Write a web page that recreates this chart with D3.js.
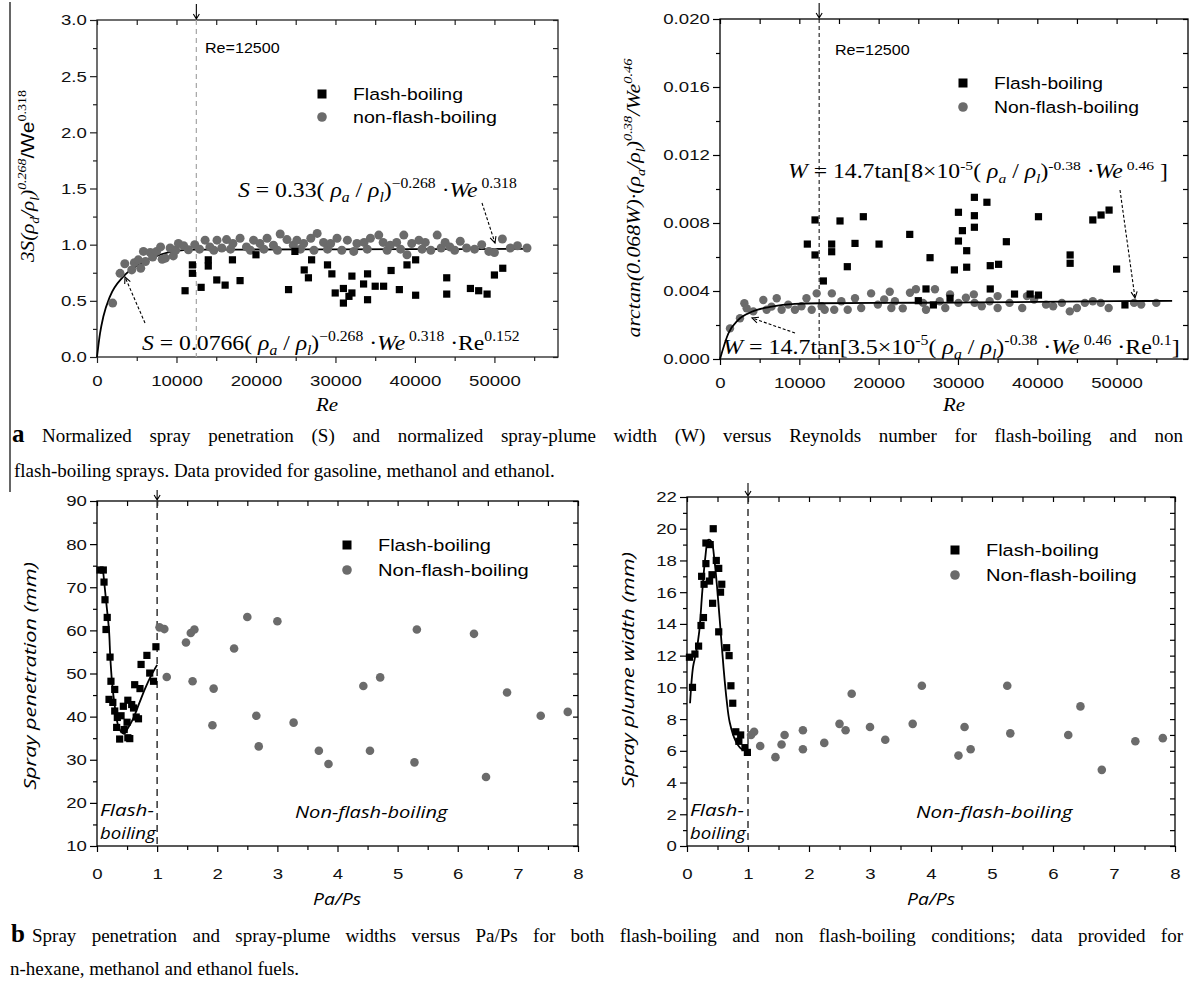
<!DOCTYPE html>
<html><head><meta charset="utf-8">
<script src="https://cdnjs.cloudflare.com/ajax/libs/d3/7.8.5/d3.min.js"></script>
<style>body{margin:0;background:#fff;} svg{display:block;}</style>
</head><body><svg id="c" width="1193" height="985"></svg>
<script>
// ---------------- DATA ----------------
const reTicks = [0,10000,20000,30000,40000,50000];
const reMinor = [5000,15000,25000,35000,45000,55000];
const sTicks = [0,0.5,1.0,1.5,2.0,2.5,3.0];
const sMinor = [0.25,0.75,1.25,1.75,2.25,2.75];
const wTicks = [0,0.004,0.008,0.012,0.016,0.020];
const wMinor = [0.002,0.006,0.010,0.014,0.018];
const paTicks = [0,1,2,3,4,5,6,7,8];
const paMinor = [0.5,1.5,2.5,3.5,4.5,5.5,6.5,7.5];
const penTicks = [10,20,30,40,50,60,70,80,90];
const penMinor = [15,25,35,45,55,65,75,85];
const plumeTicks = [0,2,4,6,8,10,12,14,16,18,20,22];
const plumeMinor = [1,3,5,7,9,11,13,15,17,19,21];
const seriesNames = ["Flash-boiling","non-flash-boiling","Non-flash-boiling"];
const reCritical = 12500;
const paCritical = 1;

// (a) left: normalized penetration vs Re
const normPenFlash = [[11080,0.59],[12000,0.82],[12000,0.745],[13100,0.62],[14000,0.865],[14000,0.81],[15070,0.686],[16120,0.64],[17040,0.865],[18000,0.68],[20000,0.91],[24100,0.6],[24900,0.94],[27000,0.865],[26070,0.775],[26600,0.705],[29000,0.82],[29550,0.74],[29970,0.57],[31000,0.61],[31000,0.48],[32070,0.72],[32070,0.57],[31700,0.54],[33540,0.65],[34040,0.74],[34040,0.51],[35000,0.63],[36060,0.63],[37000,0.77],[38040,0.6],[39000,0.82],[40090,0.865],[40090,0.55],[44000,0.705],[44000,0.56],[46980,0.61],[48020,0.59],[49080,0.56],[50000,0.73],[51050,0.79]];
const normPenNonFlash = [[1970,0.48],[2900,0.745],[3500,0.83],[4370,0.775],[4700,0.84],[5200,0.865],[5500,0.79],[5840,0.94],[6100,0.85],[6700,0.93],[7000,0.89],[7500,0.94],[8000,0.98],[8200,0.87],[8600,0.88],[9200,0.97],[9600,0.9],[9900,0.95],[10240,1.01],[10900,0.99],[11500,0.955],[12300,1.0],[12900,0.96],[13600,1.04],[14200,0.98],[14700,0.95],[15100,1.04],[15700,0.97],[16300,1.045],[16800,0.96],[17100,1.01],[18000,1.057],[18800,0.98],[19300,0.95],[19700,1.04],[20500,1.01],[21000,0.96],[21400,1.057],[22200,0.995],[22700,0.95],[23050,1.095],[23900,1.045],[24700,0.995],[25150,1.04],[25600,0.96],[26000,1.01],[26900,1.057],[27300,0.95],[27700,1.10],[28500,1.02],[29000,0.96],[29400,1.01],[30200,1.057],[30800,0.95],[31500,1.04],[32300,0.94],[32700,1.01],[33600,1.02],[34000,0.96],[34400,1.057],[35450,1.085],[36000,1.02],[36500,0.95],[36900,0.995],[37700,1.02],[38200,0.96],[38600,1.085],[39000,0.91],[39600,1.01],[40500,1.04],[40900,0.96],[41300,1.02],[42000,0.95],[42800,1.085],[43300,0.97],[43800,1.02],[44400,0.98],[45000,0.95],[45700,1.03],[46500,0.97],[47500,0.96],[48400,1.0],[49300,0.94],[50000,0.93],[51000,1.05],[52000,0.97],[52900,0.99],[54100,0.97]];
const normPenFit = [[0,0],[380,0.21],[800,0.36],[1640,0.54],[3300,0.715],[5400,0.83],[7900,0.91],[10000,0.944],[12500,0.955],[20000,0.957],[30000,0.958],[40000,0.96],[54500,0.962]];

// (a) right: normalized width vs Re
const normWidthFlash = [[11010,0.00676],[11980,0.00818],[11980,0.00612],[13030,0.00459],[15130,0.00812],[14080,0.00676],[14080,0.00631],[16050,0.00543],[17020,0.0068],[18070,0.00837],[20050,0.00676],[23920,0.00733],[26480,0.00596],[25970,0.00412],[25000,0.00343],[26900,0.00318],[29550,0.00524],[29000,0.00357],[30060,0.00863],[30060,0.00694],[30560,0.00755],[31100,0.00637],[31100,0.0054],[32070,0.00951],[32070,0.00843],[32070,0.00775],[33650,0.00922],[34070,0.00549],[34070,0.00412],[35120,0.00557],[36100,0.0069],[37130,0.00382],[39100,0.00382],[40150,0.00837],[40150,0.00376],[44140,0.00612],[44140,0.00563],[47000,0.00818],[48040,0.00847],[49050,0.00876],[50000,0.00529],[51050,0.00318]];
const normWidthNonFlash = [[1260,0.0018],[2520,0.0024],[3070,0.00328],[3360,0.00298],[4200,0.0028],[5460,0.00347],[5880,0.0029],[6500,0.00308],[7150,0.00357],[7770,0.0029],[8600,0.0032],[9450,0.0029],[10270,0.0031],[10900,0.00357],[11560,0.0029],[12190,0.00386],[12820,0.0031],[13200,0.0029],[14100,0.00386],[14400,0.0029],[15300,0.0034],[16100,0.0029],[17020,0.00357],[17800,0.003],[19050,0.00386],[19900,0.0032],[20700,0.0035],[21400,0.00396],[21600,0.003],[22050,0.0034],[23040,0.00298],[23950,0.0039],[24700,0.0041],[25600,0.0033],[25970,0.0029],[27100,0.0041],[27700,0.0034],[28400,0.003],[29000,0.0038],[30060,0.0033],[31000,0.0036],[32000,0.0038],[32100,0.0033],[33000,0.0031],[34000,0.0034],[35000,0.0037],[35000,0.003],[36500,0.0033],[38100,0.003],[38700,0.0037],[39600,0.0035],[41100,0.0032],[42000,0.0031],[43100,0.0033],[44100,0.0028],[45000,0.003],[46000,0.0033],[47000,0.0034],[48000,0.0033],[49000,0.003],[52200,0.0033],[53100,0.0032],[55000,0.0033]];
const normWidthFit = [[0,0],[1050,0.0015],[2300,0.0023],[4000,0.00278],[6500,0.00308],[9450,0.00324],[12500,0.00328],[20000,0.0033],[30000,0.00332],[40000,0.00336],[50000,0.0034],[57000,0.00342]];

// (b) left: penetration vs Pa/Ps
const penFlash = [[0.05,74.0],[0.105,74.0],[0.117,71.2],[0.133,67.1],[0.17,63.0],[0.15,60.2],[0.217,53.8],[0.232,48.2],[0.295,46.3],[0.2,44.0],[0.263,43.3],[0.295,41.3],[0.338,39.8],[0.327,37.5],[0.377,34.8],[0.452,37.0],[0.40,40.2],[0.513,35.1],[0.545,34.9],[0.438,42.4],[0.513,43.8],[0.50,38.7],[0.577,42.8],[0.608,42.0],[0.627,47.4],[0.652,39.9],[0.69,39.5],[0.715,46.5],[0.733,52.1],[0.83,54.2],[0.877,50.1],[0.94,48.2],[0.98,56.2]];
const penNonFlash = [[1.04,60.7],[1.12,60.3],[1.16,49.2],[1.48,57.2],[1.56,59.4],[1.62,60.2],[1.59,48.2],[1.94,46.5],[1.92,38.0],[2.28,55.8],[2.5,63.1],[2.65,40.2],[2.69,33.1],[3.0,62.1],[3.27,38.6],[3.69,32.1],[3.85,29.0],[4.43,47.1],[4.54,32.1],[4.71,49.1],[5.28,29.4],[5.32,60.2],[6.27,59.2],[6.47,26.0],[6.82,45.6],[7.38,40.2],[7.83,41.1]];
const penFit = [[0.1,74],[0.15,67],[0.2,60],[0.22,54],[0.25,48],[0.3,42],[0.35,38],[0.4,36.5],[0.45,36],[0.5,37],[0.6,39.5],[0.7,43],[0.8,46.5],[0.9,49.5],[1.0,52]];

// (b) right: plume width vs Pa/Ps
const plumeFlash = [[0.04,11.9],[0.09,10.0],[0.13,12.1],[0.19,12.6],[0.23,13.9],[0.27,14.4],[0.24,17.0],[0.31,19.1],[0.31,17.8],[0.28,16.5],[0.38,19.0],[0.37,16.7],[0.41,17.1],[0.43,20.0],[0.42,15.3],[0.48,18.0],[0.52,17.5],[0.57,16.5],[0.55,16.0],[0.52,13.5],[0.65,12.5],[0.69,12.0],[0.72,10.1],[0.75,9.0],[0.8,7.2],[0.85,6.6],[0.88,7.0],[0.95,6.2],[0.99,5.9]];
const plumeNonFlash = [[1.05,7.0],[1.1,7.2],[1.2,6.3],[1.45,5.6],[1.55,6.4],[1.6,7.0],[1.9,7.3],[1.9,6.1],[2.25,6.5],[2.5,7.7],[2.6,7.3],[2.7,9.6],[3.0,7.5],[3.25,6.7],[3.7,7.7],[3.85,10.1],[4.45,5.7],[4.55,7.5],[4.65,6.1],[5.25,10.1],[5.3,7.1],[6.25,7.0],[6.45,8.8],[6.8,4.8],[7.35,6.6],[7.8,6.8]];
const plumeFit = [[0.05,9],[0.1,11.3],[0.15,12.2],[0.2,13.5],[0.25,16],[0.3,18.2],[0.35,19.3],[0.4,19.2],[0.45,18],[0.5,16],[0.55,13.6],[0.6,11.2],[0.65,9.2],[0.7,7.8],[0.8,6.6],[0.9,6.1],[1.0,6.0]];

// ---------------- DRAWING ----------------
const svg = d3.select('#c');
const SANS = '"Liberation Sans", Arial, sans-serif';
const SERIF = '"Liberation Serif", "Times New Roman", serif';
const OSANS = '"Open Sans", "Noto Sans", sans-serif';
const GREY = '#6b6b6b';

function rich(parent, x, y, segs, o) {
  const size = o.size, fam = o.fam || SERIF;
  const g = parent.append('g');
  const t = g.append('text').attr('font-family', fam).attr('font-size', size)
    .attr('text-anchor', o.anchor || 'start').attr('fill', o.fill || '#000');
  if (o.italic) t.attr('font-style', 'italic');
  if (o.bold) t.attr('font-weight', 'bold');
  let prev = 0;
  segs.forEach(s => {
    const sh = s.sh === 'sup' ? -0.42 * size : s.sh === 'sub' ? 0.25 * size : 0;
    const ts = t.append('tspan').text(s.t).attr('dy', sh - prev);
    prev = sh;
    if (s.sh) ts.attr('font-size', size * 0.66);
    if (s.it) ts.attr('font-style', 'italic');
    if (s.up) ts.attr('font-style', 'normal');
    if (s.fam) ts.attr('font-family', s.fam);
  });
  let tf = `translate(${x},${y})` + (o.rot ? ' rotate(-90)' : '');
  if (o.w) { const w = t.node().getBBox().width; tf += ` scale(${o.w / w},1)`; }
  else if (o.k) tf += ` scale(${o.k},1)`;
  g.attr('transform', tf);
  return g;
}
const N = t => ({t}), I = t => ({t, it: true}), SUP = t => ({t, sh: 'sup', up: true}),
      ISUP = t => ({t, sh: 'sup', it: true}), ISUB = t => ({t, sh: 'sub', it: true});

function panel(c) {
  const x = d3.scaleLinear().domain(c.xd).range([c.l, c.r]);
  const y = d3.scaleLinear().domain(c.yd).range([c.b, c.t]);
  const g = svg.append('g');
  const styleAxis = a => {
    a.select('.domain').remove();
    a.selectAll('line').attr('stroke', c.axisColor || '#000').attr('stroke-width', 1.2);
    a.selectAll('text').attr('font-family', SANS).attr('font-size', 15.5).attr('fill', '#111')
      .attr('transform', 'scale(1.2,1)');
  };
  g.append('g').attr('transform', `translate(0,${c.b})`)
    .call(d3.axisBottom(x).tickValues(c.xt).tickSize(6).tickPadding(c.xpad || 12).tickFormat(c.xf)).call(styleAxis);
  g.append('g').attr('transform', `translate(0,${c.b})`)
    .call(d3.axisBottom(x).tickValues(c.xm).tickSize(4).tickFormat('')).call(styleAxis);
  g.append('g').attr('transform', `translate(${c.l},0)`)
    .call(d3.axisLeft(y).tickValues(c.yt).tickSize(7).tickPadding(1.5).tickFormat(c.yf)).call(styleAxis);
  g.append('g').attr('transform', `translate(${c.l},0)`)
    .call(d3.axisLeft(y).tickValues(c.ym).tickSize(4).tickFormat('')).call(styleAxis);
  g.append('g').attr('transform', `translate(0,${c.t})`)
    .call(d3.axisTop(x).tickValues(c.xt.concat(c.xm)).tickSize(-5).tickFormat('')).call(styleAxis);
  g.append('g').attr('transform', `translate(${c.r},0)`)
    .call(d3.axisRight(y).tickValues(c.yt.concat(c.ym)).tickSize(-5).tickFormat('')).call(styleAxis);
  g.append('rect').attr('x', c.l).attr('y', c.t).attr('width', c.r - c.l).attr('height', c.b - c.t)
    .attr('fill', 'none').attr('stroke', c.axisColor || '#000').attr('stroke-width', 1.3);
  return {x, y, g};
}

function markers(p, flash, non, sq, r) {
  p.g.append('g').selectAll('circle').data(non).join('circle')
    .attr('cx', d => p.x(d[0])).attr('cy', d => p.y(d[1])).attr('r', r).attr('fill', GREY);
  p.g.append('g').selectAll('rect').data(flash).join('rect')
    .attr('x', d => p.x(d[0]) - sq / 2).attr('y', d => p.y(d[1]) - sq / 2)
    .attr('width', sq).attr('height', sq).attr('fill', '#000');
}
function fitLine(p, pts, curve) {
  p.g.append('path').datum(pts).attr('fill', 'none').attr('stroke', '#000').attr('stroke-width', 1.8)
    .attr('d', d3.line().x(d => p.x(d[0])).y(d => p.y(d[1])).curve(curve || d3.curveMonotoneX));
}
function vdash(p, xv, color, dash, w, arrowTop) {
  const xx = p.x(xv);
  p.g.append('line').attr('x1', xx).attr('x2', xx).attr('y1', p.y.range()[1]).attr('y2', p.y.range()[0])
    .attr('stroke', color).attr('stroke-dasharray', dash).attr('stroke-width', w);
  const t = p.y.range()[1];
  p.g.append('path').attr('d', `M${xx},${arrowTop}L${xx},${t - 1}M${xx - 3},${t - 6}L${xx},${t - 1}L${xx + 3},${t - 6}`)
    .attr('fill', 'none').attr('stroke', '#000').attr('stroke-width', 1.1);
}
function dashArrow(x1, y1, x2, y2) {
  const a = Math.atan2(y2 - y1, x2 - x1), L = 7;
  svg.append('line').attr('x1', x1).attr('y1', y1).attr('x2', x2).attr('y2', y2)
    .attr('stroke', '#000').attr('stroke-width', 1.1).attr('stroke-dasharray', '3,2');
  svg.append('path').attr('d', `M${x2 - L * Math.cos(a - 0.45)},${y2 - L * Math.sin(a - 0.45)}L${x2},${y2}L${x2 - L * Math.cos(a + 0.45)},${y2 - L * Math.sin(a + 0.45)}`)
    .attr('fill', 'none').attr('stroke', '#000').attr('stroke-width', 1.1);
}
function legend(x, y, gap, labels, sq, r, w1, w2) {
  svg.append('rect').attr('x', x - sq / 2).attr('y', y - sq / 2).attr('width', sq).attr('height', sq).attr('fill', '#000');
  svg.append('circle').attr('cx', x).attr('cy', y + gap).attr('r', r).attr('fill', GREY);
  rich(svg, x + 31, y + 6, [N(labels[0])], {size: 16.5, fam: SANS, w: w1});
  rich(svg, x + 31, y + gap + 6, [N(labels[1])], {size: 16.5, fam: SANS, w: w2});
}

// ---- Panel (a) left
const p1 = panel({l: 97, r: 558, t: 20, b: 357, xd: [0, 58000], yd: [0, 3], xt: reTicks, xm: reMinor,
  yt: sTicks, ym: sMinor, xf: d3.format('d'), yf: d3.format('.1f'), axisColor: '#222'});
vdash(p1, reCritical, '#aaa', '5,4', 1.3, 4);
fitLine(p1, normPenFit);
markers(p1, normPenFlash, normPenNonFlash, 7.2, 4.5);
rich(svg, 205, 53, [N('Re=' + reCritical)], {size: 14, fam: SANS, k: 1.15});
legend(322, 94, 23, [seriesNames[0], seriesNames[1]], 9, 4.8, 110, 144);
rich(svg, 238, 197, [I('S'), N(' = 0.33( '), I('ρ'), ISUB('a'), N(' / '), I('ρ'), ISUB('l'), N(')'), SUP('−0.268'), N(' ·'), I('We'), SUP(' 0.318')], {size: 21, w: 279});
rich(svg, 142, 350, [I('S'), N(' = 0.0766( '), I('ρ'), ISUB('a'), N(' / '), I('ρ'), ISUB('l'), N(')'), SUP('−0.268'), N(' ·'), I('We'), SUP(' 0.318'), N(' ·Re'), SUP('0.152')], {size: 21, w: 378});
dashArrow(482, 203, 495, 243);
dashArrow(145, 323, 125, 277);
rich(svg, 34, 176, [I('3S(ρ'), ISUB('d'), I('/ρ'), ISUB('l'), I(')'), ISUP('0.268'), {t: '/We', fam: SANS, up: true}, SUP('0.318')], {size: 19, anchor: 'middle', rot: true, w: 173});
rich(svg, 327, 411, [I('Re')], {size: 19, anchor: 'middle', k: 1.1});

// ---- Panel (a) right
const p2 = panel({l: 720, r: 1188, t: 19, b: 359, xd: [0, 59000], yd: [0, 0.02], xt: reTicks, xm: reMinor,
  yt: wTicks, ym: wMinor, xf: d3.format('d'), yf: d3.format('.3f')});
vdash(p2, reCritical, '#000', '4,3', 1, 3);
markers(p2, normWidthFlash, normWidthNonFlash, 7.2, 4.2);
fitLine(p2, normWidthFit);
rich(svg, 835, 55, [N('Re=' + reCritical)], {size: 14, fam: SANS, k: 1.15});
legend(963, 83, 24, [seriesNames[0], seriesNames[2]], 9, 4.8, 109, 145);
rich(svg, 788, 178, [I('W'), N(' = 14.7tan[8×10'), SUP('-5'), N('( '), I('ρ'), ISUB('a'), N(' / '), I('ρ'), ISUB('l'), N(')'), SUP('-0.38'), N(' ·'), I('We'), SUP(' 0.46'), N(' ]')], {size: 20, w: 380});
rich(svg, 723, 354, [I('W'), N(' = 14.7tan[3.5×10'), SUP('-5'), N('( '), I('ρ'), ISUB('a'), N(' / '), I('ρ'), ISUB('l'), N(')'), SUP('-0.38'), N(' ·'), I('We'), SUP(' 0.46'), N(' ·Re'), SUP('0.1'), N(']')], {size: 21, w: 457});
dashArrow(1120, 190, 1135, 298);
dashArrow(795, 333, 752, 318);
rich(svg, 640, 198, [I('arctan(0.068W)·(ρ'), ISUB('a'), I('/ρ'), ISUB('l'), I(')'), ISUP('0.38'), I('/We'), ISUP('0.46')], {size: 19, anchor: 'middle', rot: true, w: 280});
rich(svg, 954, 411, [I('Re')], {size: 19, anchor: 'middle', k: 1.1});

// ---- Panel (b) left
const p3 = panel({l: 97, r: 578, t: 501, b: 846, xd: [0, 8], yd: [10, 90], xt: paTicks, xm: paMinor,
  yt: penTicks, ym: penMinor, xf: d3.format('d'), yf: d3.format('d'), xpad: 16});
vdash(p3, paCritical, '#333', '7,5', 1.5, 490);
fitLine(p3, penFit, d3.curveCatmullRom);
markers(p3, penFlash, penNonFlash, 7.2, 4.3);
legend(347, 545, 25, [seriesNames[0], seriesNames[2]], 9, 4.8, 113, 151);
rich(svg, 100, 816, [N('Flash-')], {size: 17, fam: OSANS, italic: true, w: 54});
rich(svg, 100, 839, [N('boiling')], {size: 17, fam: OSANS, italic: true, w: 57});
rich(svg, 295, 818, [N('Non-flash-boiling')], {size: 17, fam: OSANS, italic: true, w: 154});
rich(svg, 36, 676, [N('Spray penetration (mm)')], {size: 17, fam: OSANS, italic: true, anchor: 'middle', rot: true, w: 228});
rich(svg, 337, 905, [N('Pa/Ps')], {size: 17, fam: OSANS, italic: true, anchor: 'middle', w: 48});

// ---- Panel (b) right
const p4 = panel({l: 687, r: 1175, t: 497, b: 846, xd: [0, 8], yd: [0, 22], xt: paTicks, xm: paMinor,
  yt: plumeTicks, ym: plumeMinor, xf: d3.format('d'), yf: d3.format('d'), xpad: 16});
vdash(p4, paCritical, '#333', '7,5', 1.5, 483);
fitLine(p4, plumeFit, d3.curveCatmullRom);
markers(p4, plumeFlash, plumeNonFlash, 7.2, 4.3);
legend(955, 550, 25, [seriesNames[0], seriesNames[2]], 9, 4.8, 113, 151);
rich(svg, 690, 816, [N('Flash-')], {size: 17, fam: OSANS, italic: true, w: 54});
rich(svg, 690, 839, [N('boiling')], {size: 17, fam: OSANS, italic: true, w: 57});
rich(svg, 916, 818, [N('Non-flash-boiling')], {size: 17, fam: OSANS, italic: true, w: 158});
rich(svg, 634, 670, [N('Spray plume width (mm)')], {size: 17, fam: OSANS, italic: true, anchor: 'middle', rot: true, w: 236});
rich(svg, 931, 905, [N('Pa/Ps')], {size: 17, fam: OSANS, italic: true, anchor: 'middle', w: 48});

// ---- Captions
function justify(str, x0, x1, y, size) {
  const words = str.split(' ');
  const nodes = words.map(w => svg.append('text').attr('font-family', SERIF).attr('font-size', size).attr('y', y).text(w));
  const widths = nodes.map(n => n.node().getComputedTextLength());
  const gap = (x1 - x0 - d3.sum(widths)) / (words.length - 1);
  let cx = x0;
  nodes.forEach((n, i) => { n.attr('x', cx); cx += widths[i] + gap; });
}
function plain(str, x0, y, size) {
  svg.append('text').attr('font-family', SERIF).attr('font-size', size).attr('x', x0).attr('y', y).text(str);
}
svg.append('line').attr('x1', 10).attr('x2', 10).attr('y1', 2).attr('y2', 492).attr('stroke', '#666').attr('stroke-width', 2);
svg.append('text').attr('font-family', SERIF).attr('font-weight', 'bold').attr('font-size', 25).attr('x', 12).attr('y', 442).text('a');
justify('Normalized spray penetration (S) and normalized spray-plume width (W) versus Reynolds number for flash-boiling and non', 42, 1183, 442, 19);
plain('flash-boiling sprays. Data provided for gasoline, methanol and ethanol.', 14, 477, 19);
svg.append('text').attr('font-family', SERIF).attr('font-weight', 'bold').attr('font-size', 25).attr('x', 11).attr('y', 942).text('b');
justify('Spray penetration and spray-plume widths versus Pa/Ps for both flash-boiling and non flash-boiling conditions; data provided for', 32, 1183, 942, 19);
plain('n-hexane, methanol and ethanol fuels.', 10, 975, 19);
</script></body></html>
